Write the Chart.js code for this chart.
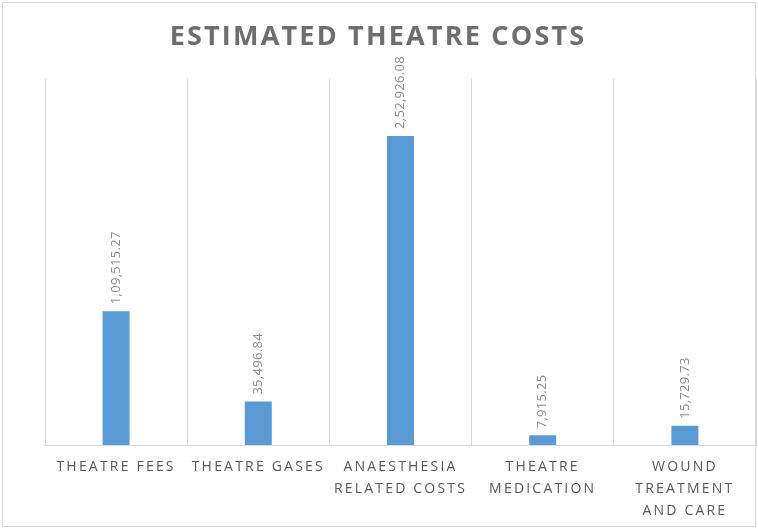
<!DOCTYPE html>
<html>
<head>
<meta charset="utf-8">
<script src="https://cdn.jsdelivr.net/npm/chart.js@4.4.0/dist/chart.umd.min.js"></script>
<style>
  html, body { margin: 0; padding: 0; background: #fff; }
  #wrap { width: 758px; height: 529px; }
</style>
</head>
<body>
<div id="wrap"><canvas id="chart"></canvas></div>
<script>
// Chart data
const categories = [
  'THEATRE FEES',
  'THEATRE GASES',
  ['ANAESTHESIA', 'RELATED COSTS'],
  ['THEATRE', 'MEDICATION'],
  ['WOUND', 'TREATMENT', 'AND CARE']
];
const costs = [109515.27, 35496.84, 252926.08, 7915.25, 15729.73];
const yMax = 300000;

// Indian digit grouping, e.g. 1,09,515.27
function formatIN(v) {
  const parts = v.toFixed(2).split('.');
  let last3 = parts[0].slice(-3);
  let rest = parts[0].slice(0, -3);
  if (rest) rest = rest.replace(/\B(?=(\d{2})+(?!\d))/g, ',') + ',';
  return rest + last3 + '.' + parts[1];
}

// Spaced letters for title and axis labels
const spacingPlugin = {
  id: 'spacing',
  beforeDraw(chart) {
    chart.ctx.letterSpacing = '2.2px';
  }
};

// Rotated value labels above each bar
const valueLabels = {
  id: 'valueLabels',
  afterDatasetsDraw(chart) {
    const ctx = chart.ctx;
    const meta = chart.getDatasetMeta(0);
    ctx.save();
    ctx.letterSpacing = '0.3px';
    ctx.fillStyle = '#8c8c8c';
    ctx.font = '13px "Open Sans"';
    ctx.textAlign = 'left';
    ctx.textBaseline = 'middle';
    meta.data.forEach((bar, i) => {
      ctx.save();
      ctx.translate(bar.x, bar.y - 7);
      ctx.rotate(-Math.PI / 2);
      ctx.fillText(formatIN(costs[i]), 0, 0);
      ctx.restore();
    });
    ctx.restore();
  }
};

// Outer frame
const frame = {
  id: 'frame',
  afterDraw(chart) {
    const ctx = chart.ctx;
    ctx.save();
    ctx.strokeStyle = '#d9d9d9';
    ctx.lineWidth = 1;
    ctx.strokeRect(2.5, 2.5, 753, 524);
    ctx.restore();
  }
};

new Chart(document.getElementById('chart'), {
  type: 'bar',
  data: {
    labels: categories,
    datasets: [{
      data: costs,
      backgroundColor: '#5b9bd5',
      categoryPercentage: 1,
      barPercentage: 0.19
    }]
  },
  options: {
    responsive: true,
    maintainAspectRatio: false,
    animation: false,
    layout: { padding: { left: 0, right: 2, top: 0, bottom: 2 } },
    plugins: {
      legend: { display: false },
      tooltip: { enabled: false },
      title: {
        display: true,
        text: 'ESTIMATED THEATRE COSTS',
        color: '#6e6e6e',
        font: { family: '"Open Sans"', size: 27, weight: 'bold' },
        padding: { top: 21, bottom: 25 }
      }
    },
    scales: {
      x: {
        grid: { offset: true, color: '#d9d9d9', drawTicks: false },
        border: { color: '#d9d9d9' },
        ticks: {
          color: '#595959',
          font: { family: '"Open Sans"', size: 14, lineHeight: 1.57 },
          padding: 11,
          maxRotation: 0,
          autoSkip: false
        },
        afterFit(scale) { scale.height = 82; }
      },
      y: {
        min: 0,
        max: yMax,
        grid: { display: false },
        border: { display: false },
        ticks: { display: false },
        afterFit(scale) { scale.width = 45; }
      }
    }
  },
  plugins: [spacingPlugin, valueLabels, frame]
});
</script>
</body>
</html>
